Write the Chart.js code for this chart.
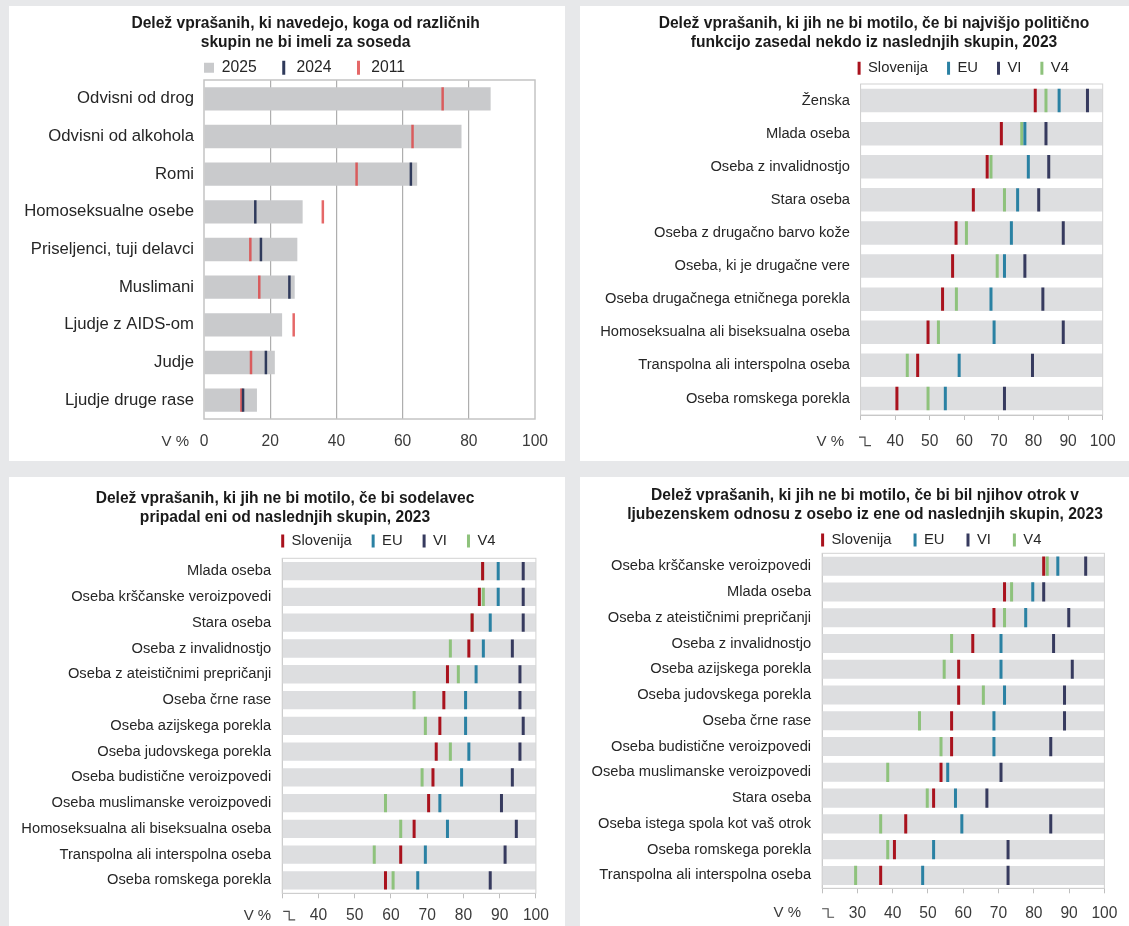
<!DOCTYPE html>
<html>
<head>
<meta charset="utf-8">
<script src="https://cdn.jsdelivr.net/npm/chart.js@4.4.1/dist/chart.umd.min.js"></script>
<style>
html,body{margin:0;padding:0;background:#e7e8ea;}
body{width:1129px;height:926px;position:relative;overflow:hidden;}
.panel{position:absolute;background:#ffffff;}
.panel canvas{position:absolute;left:0;top:0;}
</style>
</head>
<body>
<div class="panel" style="left:9px;top:6px;width:556px;height:455px"><canvas id="c1" width="556" height="455" style="width:556px;height:455px"></canvas></div>
<div class="panel" style="left:580px;top:6px;width:549px;height:455px"><canvas id="c2" width="548" height="455" style="width:548px;height:455px"></canvas></div>
<div class="panel" style="left:9px;top:477px;width:556px;height:449px"><canvas id="c3" width="556" height="449" style="width:556px;height:449px"></canvas></div>
<div class="panel" style="left:580px;top:477px;width:549px;height:449px"><canvas id="c4" width="548" height="449" style="width:548px;height:449px"></canvas></div>
<script>
// ---------------- DATA ----------------
const neighbourTitle = ['Delež vprašanih, ki navedejo, koga od različnih', 'skupin ne bi imeli za soseda'];
const neighbourCategories = ['Odvisni od drog', 'Odvisni od alkohola', 'Romi', 'Homoseksualne osebe', 'Priseljenci, tuji delavci', 'Muslimani', 'Ljudje z AIDS-om', 'Judje', 'Ljudje druge rase'];
const neighbour2025 = [86.6, 77.8, 64.4, 29.8, 28.2, 27.4, 23.6, 21.4, 16.0];
const neighbour2024 = [null, null, 62.5, 15.5, 17.2, 25.8, null, 18.7, 11.8];
const neighbour2011 = [72.1, 63.0, 46.1, 35.9, 14.0, 16.7, 27.1, 14.2, 11.3];
const neighbourTicks = [0, 20, 40, 60, 80, 100];

const politicsTitle = ['Delež vprašanih, ki jih ne bi motilo, če bi najvišjo politično', 'funkcijo zasedal nekdo iz naslednjih skupin, 2023'];
const politicsCategories = ['Ženska', 'Mlada oseba', 'Oseba z invalidnostjo', 'Stara oseba', 'Oseba z drugačno barvo kože', 'Oseba, ki je drugačne vere', 'Oseba drugačnega etničnega porekla', 'Homoseksualna ali biseksualna oseba', 'Transpolna ali interspolna oseba', 'Oseba romskega porekla'];
const politicsSlovenija = [80.5, 70.7, 66.6, 62.6, 57.6, 56.6, 53.7, 49.5, 46.5, 40.5];
const politicsEU = [87.4, 77.5, 78.5, 75.4, 73.6, 71.6, 67.7, 68.6, 58.5, 54.5];
const politicsVI = [95.6, 83.6, 84.4, 81.5, 88.6, 77.5, 82.7, 88.6, 79.7, 71.6];
const politicsV4 = [83.6, 76.6, 67.7, 71.6, 60.6, 69.5, 57.7, 52.5, 43.5, 49.5];

const coworkerTitle = ['Delež vprašanih, ki jih ne bi motilo, če bi sodelavec', 'pripadal eni od naslednjih skupin, 2023'];
const coworkerCategories = ['Mlada oseba', 'Oseba krščanske veroizpovedi', 'Stara oseba', 'Oseba z invalidnostjo', 'Oseba z ateističnimi prepričanji', 'Oseba črne rase', 'Oseba azijskega porekla', 'Oseba judovskega porekla', 'Oseba budistične veroizpovedi', 'Oseba muslimanske veroizpovedi', 'Homoseksualna ali biseksualna oseba', 'Transpolna ali interspolna oseba', 'Oseba romskega porekla'];
const coworkerSlovenija = [85.3, 84.4, 82.4, 81.5, 75.6, 74.6, 73.5, 72.5, 71.6, 70.4, 66.4, 62.7, 58.5];
const coworkerEU = [89.6, 89.6, 87.4, 85.5, 83.5, 80.6, 80.6, 81.5, 79.5, 73.5, 75.6, 69.5, 67.4];
const coworkerVI = [96.5, 96.5, 96.5, 93.5, 95.6, 95.6, 96.5, 95.6, 93.5, 90.5, 94.6, 91.5, 87.4];
const coworkerV4 = [85.3, 85.5, 82.4, 76.4, 78.6, 66.4, 69.5, 76.4, 68.6, 58.5, 62.7, 55.4, 60.6];

const datingTitle = ['Delež vprašanih, ki jih ne bi motilo, če bi bil njihov otrok v', 'ljubezenskem odnosu z osebo iz ene od naslednjih skupin, 2023'];
const datingCategories = ['Oseba krščanske veroizpovedi', 'Mlada oseba', 'Oseba z ateističnimi prepričanji', 'Oseba z invalidnostjo', 'Oseba azijskega porekla', 'Oseba judovskega porekla', 'Oseba črne rase', 'Oseba budistične veroizpovedi', 'Oseba muslimanske veroizpovedi', 'Stara oseba', 'Oseba istega spola kot vaš otrok', 'Oseba romskega porekla', 'Transpolna ali interspolna oseba'];
const datingSlovenija = [82.8, 71.7, 68.7, 62.7, 58.7, 58.7, 56.7, 56.7, 53.7, 51.6, 43.7, 40.5, 36.6];
const datingEU = [86.8, 79.7, 77.7, 70.7, 70.7, 71.7, 68.7, 68.7, 55.6, 57.8, 59.6, 51.6, 48.5];
const datingVI = [94.7, 82.8, 89.9, 85.6, 90.9, 88.7, 88.7, 84.8, 70.7, 66.7, 84.8, 72.7, 72.7];
const datingV4 = [83.8, 73.7, 71.7, 56.7, 54.6, 65.7, 47.6, 53.7, 38.6, 49.8, 36.6, 38.6, 29.5];

const yearNames = ['2025', '2024', '2011'];
const regionNames = ['Slovenija', 'EU', 'VI', 'V4'];
const unitLabel = 'V %';

// ---------------- STYLE ----------------
const FONT = "'Liberation Sans', Arial, sans-serif";
Chart.defaults.font.family = FONT;
Chart.defaults.color = '#3a3a3a';

const C = {
  bar2025: '#c9cacc', y2024: '#2f3a5b', y2011: 'rgba(222,62,62,0.78)',
  band: '#dddee0', slo: '#a9121d', eu: '#2a81a3', vi: '#363a5e', v4: '#8ec27c',
  grid: 'rgba(120,120,120,0.6)', frame1: '#c4c4c4', frame: '#d2d2d2', axis: '#bfbfbf',
  text: '#262626', tick: '#3a3a3a', title: '#1a1a1a'
};

// ---------------- PLUGINS ----------------
const placePlugin = {
  id: 'place',
  afterLayout(chart, args, o) {
    const t = chart.titleBlock;
    if (t && o.titleCX != null) {
      const w = t.right - t.left, h = t.bottom - t.top;
      t.left = o.titleCX - w / 2; t.right = t.left + w;
      t.top = o.titleTop; t.bottom = t.top + h;
    }
    const lg = chart.legend;
    if (lg && o.legendCY != null) {
      const p = o.legendPad, h = lg.bottom - lg.top, w = lg.right - lg.left;
      lg.left = chart.chartArea.left - p + (o.legendDx || 0); lg.right = lg.left + w;
      lg.top = o.legendCY - p - o.legendFont / 2; lg.bottom = lg.top + h;
    }
  }
};

const framePlugin = {
  id: 'plotFrame',
  afterDatasetsDraw(chart, args, o) {
    if (!o || !o.color) return;
    const {ctx, chartArea: a} = chart;
    ctx.save();
    ctx.strokeStyle = o.color; ctx.lineWidth = o.width || 1;
    ctx.strokeRect(a.left, a.top, a.right - a.left, a.bottom - a.top);
    ctx.restore();
  }
};

const extrasPlugin = {
  id: 'axisExtras',
  afterDraw(chart, args, o) {
    const {ctx, chartArea: a} = chart;
    const y = a.bottom + o.labelDy;
    ctx.save();
    ctx.fillStyle = C.tick;
    ctx.font = o.fontSize + 'px ' + FONT;
    ctx.textAlign = 'right'; ctx.textBaseline = 'middle';
    ctx.fillText(o.unit, a.left + o.unitDx, y);
    if (o.breakDx != null) {
      const x = chart.scales.x.getPixelForValue(chart.scales.x.min) + o.breakDx;
      ctx.strokeStyle = '#4a4a4a'; ctx.lineWidth = 1.2;
      ctx.beginPath();
      ctx.moveTo(x - 6, y - 4.5); ctx.lineTo(x, y - 4.5); ctx.lineTo(x, y + 4); ctx.lineTo(x + 6, y + 4);
      ctx.stroke();
    }
    ctx.restore();
  }
};

// ---------------- BUILDERS ----------------
function markerDataset(label, values, color, order, L) {
  return {
    type: 'line', label, data: values, indexAxis: 'y', showLine: false, order,
    pointStyle: 'line', pointRotation: 90,
    pointRadius: L.markerR, pointHoverRadius: L.markerR,
    pointBorderWidth: L.markerW, pointHoverBorderWidth: L.markerW,
    pointBorderColor: color, pointBackgroundColor: color,
    borderColor: color, backgroundColor: color
  };
}

function makeChart(id, title, cats, datasets, legendItems, L) {
  const titleLH = 19;
  const legendH = L.legendFont + L.legendPad + 10;
  const titlePadBottom = L.chartTop - 2 * titleLH - legendH;
  const tickLH = 15.6 * 1.2;
  const xScale = {
    type: 'linear', min: L.xMin, max: 100,
    ticks: {
      stepSize: L.step, padding: L.tickPad, maxRotation: 0, autoSkip: false,
      font: {size: 15.6}, color: C.tick,
      callback: (v) => (L.breakDx != null && v === L.xMin) ? '' : v
    },
    afterFit: (s) => { s.height = L.canvasH - L.chartBottom; }
  };
  if (L.gridOver) {
    xScale.z = 1;
    xScale.grid = {drawTicks: false, lineWidth: 1.2,
      color: (c) => (c.tick && (c.tick.value === L.xMin || c.tick.value === 100)) ? 'rgba(0,0,0,0)' : C.grid};
    xScale.border = {display: false};
  } else {
    xScale.grid = {drawOnChartArea: false, drawTicks: true, tickLength: L.tickLen, color: C.axis};
    xScale.border = {display: true, color: C.axis};
  }
  return new Chart(document.getElementById(id), {
    type: 'bar',
    data: {labels: cats, datasets},
    plugins: [placePlugin, framePlugin, extrasPlugin],
    options: {
      responsive: false, animation: false, events: [], indexAxis: 'y',
      layout: {autoPadding: false, padding: {top: 0, left: 0, right: L.canvasW - L.chartRight, bottom: 0}},
      scales: {
        x: xScale,
        y: {
          type: 'category', offset: true,
          ticks: {padding: L.catPad, autoSkip: false, font: {size: L.catFont}, color: C.text},
          grid: {display: false, drawTicks: false},
          border: {display: !L.gridOver, color: C.axis},
          afterFit: (s) => { s.width = L.chartLeft; }
        }
      },
      plugins: {
        title: {display: true, text: title, color: C.title,
          font: {size: 15.6, weight: 'bold', lineHeight: titleLH + 'px'},
          padding: {top: 0, bottom: titlePadBottom}},
        legend: {display: true, position: 'top', align: 'start', fullSize: true,
          labels: {
            padding: L.legendPad, usePointStyle: true, boxWidth: L.boxW, boxHeight: L.boxH,
            pointStyleWidth: L.pointStyleWidth, color: C.text,
            font: {size: L.legendFont},
            generateLabels: () => legendItems
          }},
        tooltip: {enabled: false},
        place: {titleCX: L.titleCX, titleTop: L.titleTop, legendCY: L.legendCY, legendPad: L.legendPad, legendFont: L.legendFont, legendDx: L.legendDx},
        plotFrame: {color: L.gridOver ? C.frame1 : C.frame, width: L.gridOver ? 1.5 : 1},
        axisExtras: {unit: unitLabel, fontSize: 15, unitDx: L.unitDx, breakDx: L.breakDx,
          labelDy: L.tickLen + L.tickPad + tickLH / 2}
      }
    }
  });
}

function regionLegend() {
  const cols = [C.slo, C.eu, C.vi, C.v4];
  return regionNames.map((n, i) => ({text: n, fillStyle: cols[i], strokeStyle: cols[i], lineWidth: 0,
    pointStyle: 'rect', rotation: 0, hidden: false, datasetIndex: i + 1, fontColor: C.text}));
}

function regionPanel(id, title, cats, slo, eu, vi, v4, L) {
  const band = {type: 'bar', label: 'band', data: cats.map(() => [L.xMin, 100]),
    backgroundColor: C.band, borderWidth: 0, barPercentage: L.barPct, categoryPercentage: 1, order: 10};
  const ds = [band,
    markerDataset(regionNames[0], slo, C.slo, 0, L),
    markerDataset(regionNames[1], eu, C.eu, 2, L),
    markerDataset(regionNames[2], vi, C.vi, 1, L),
    markerDataset(regionNames[3], v4, C.v4, 3, L)];
  return makeChart(id, title, cats, ds, regionLegend(), L);
}

// ---------------- PANEL 1 ----------------
const L1 = {canvasW: 556, canvasH: 455, chartLeft: 195, chartRight: 526, chartTop: 74, chartBottom: 413,
  titleTop: 7.8, titleCX: 296.6, legendCY: 61.7, legendPad: 22, legendFont: 15.7, legendDx: 0,
  boxW: 10, boxH: 10, pointStyleWidth: undefined,
  catFont: 16.7, catPad: 10, tickPad: 13.3, tickLen: 0, unitDx: -15, breakDx: null,
  barPct: 0.62, markerR: 11.7, markerW: 2.5, xMin: neighbourTicks[0], step: neighbourTicks[1] - neighbourTicks[0], gridOver: true};
makeChart('c1', neighbourTitle, neighbourCategories, [
  {type: 'bar', label: yearNames[0], data: neighbour2025, backgroundColor: C.bar2025, borderWidth: 0,
   barPercentage: L1.barPct, categoryPercentage: 1, order: 10},
  markerDataset(yearNames[1], neighbour2024, C.y2024, 0, L1),
  markerDataset(yearNames[2], neighbour2011, C.y2011, 1, L1)
], [
  {text: yearNames[0], fillStyle: C.bar2025, strokeStyle: C.bar2025, lineWidth: 0, pointStyle: 'rect', rotation: 0, hidden: false, datasetIndex: 0, fontColor: C.text},
  {text: yearNames[1], fillStyle: C.y2024, strokeStyle: C.y2024, lineWidth: 3, pointStyle: 'line', rotation: 90, hidden: false, datasetIndex: 1, fontColor: C.text},
  {text: yearNames[2], fillStyle: C.y2011, strokeStyle: C.y2011, lineWidth: 3, pointStyle: 'line', rotation: 90, hidden: false, datasetIndex: 2, fontColor: C.text}
], L1);

// ---------------- PANEL 2 ----------------
const L2 = {canvasW: 548, canvasH: 455, chartLeft: 280.6, chartRight: 534.2, chartTop: 78, chartBottom: 409,
  titleTop: 7.8, titleCX: 294, legendCY: 62.3, legendPad: 19, legendFont: 14.8, legendDx: -3,
  boxW: 3, boxH: 13, pointStyleWidth: 3,
  catFont: 14.7, catPad: 10.6, tickPad: 12.3, tickLen: 5, unitDx: -16.6, breakDx: 4.4,
  barPct: 0.71, markerR: 11.7, markerW: 3, xMin: 30, step: 10, gridOver: false};
regionPanel('c2', politicsTitle, politicsCategories, politicsSlovenija, politicsEU, politicsVI, politicsV4, L2);

// ---------------- PANEL 3 ----------------
const L3 = {canvasW: 556, canvasH: 449, chartLeft: 273.2, chartRight: 526.9, chartTop: 81.3, chartBottom: 416.3,
  titleTop: 11.8, titleCX: 276, legendCY: 64, legendPad: 20, legendFont: 14.8, legendDx: -1,
  boxW: 3, boxH: 13, pointStyleWidth: 3,
  catFont: 14.7, catPad: 11, tickPad: 8.3, tickLen: 5, unitDx: -11, breakDx: 7,
  barPct: 0.71, markerR: 9.1, markerW: 3, xMin: 30, step: 10, gridOver: false};
regionPanel('c3', coworkerTitle, coworkerCategories, coworkerSlovenija, coworkerEU, coworkerVI, coworkerV4, L3);

// ---------------- PANEL 4 ----------------
const L4 = {canvasW: 548, canvasH: 449, chartLeft: 242.1, chartRight: 525.9, chartTop: 76.3, chartBottom: 411.3,
  titleTop: 9.5, titleCX: 285, legendCY: 63, legendPad: 22, legendFont: 14.8, legendDx: -1,
  boxW: 3, boxH: 13, pointStyleWidth: 3,
  catFont: 14.7, catPad: 11, tickPad: 10.6, tickLen: 5, unitDx: -21, breakDx: 6,
  barPct: 0.74, markerR: 9.6, markerW: 3, xMin: 20, step: 10, gridOver: false};
regionPanel('c4', datingTitle, datingCategories, datingSlovenija, datingEU, datingVI, datingV4, L4);
</script>
</body>
</html>
